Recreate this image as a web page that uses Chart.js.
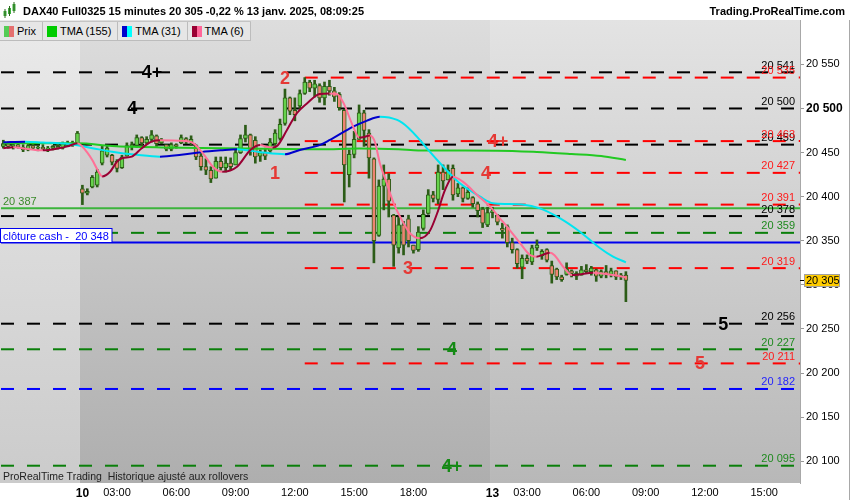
<!DOCTYPE html>
<html lang="fr">
<head>
<meta charset="utf-8">
<title>DAX40 Full0325 15 minutes</title>
<script src="https://cdn.jsdelivr.net/npm/chart.js@4.4.1/dist/chart.umd.min.js"></script>
<style>
  html, body { margin: 0; padding: 0; background: #fff; }
  #wrap { position: relative; width: 850px; height: 500px; overflow: hidden; font-family: "Liberation Sans", Arial, sans-serif; color: #000; }
  #chart { position: absolute; left: 0; top: 0; }
  #title { position: absolute; left: 23px; top: 5px; font-size: 11px; font-weight: bold; white-space: nowrap; }
  #brand { position: absolute; right: 5px; top: 5px; font-size: 11px; font-weight: bold; white-space: nowrap; }
  #legend { position: absolute; left: 0; top: 21px; display: flex; border-top: 1px solid #c4c4c4; }
  .lg { height: 18px; background: #e6e6e6; border-right: 1px solid #bcbcbc; border-bottom: 1px solid #bcbcbc; font-size: 11px; line-height: 18px; display: flex; align-items: center; white-space: nowrap; padding-right: 6px; }
  .sq { display: inline-block; width: 10px; height: 11px; margin: 0 3px 0 4px; }
  #footer { position: absolute; left: 3px; top: 470px; font-size: 10.5px; color: #222; white-space: nowrap; }
</style>
</head>
<body>
<div id="wrap">
  <canvas id="chart" width="850" height="500"></canvas>
  <div id="title">DAX40 Full0325 15 minutes 20 305 -0,22 % 13 janv. 2025, 08:09:25</div>
  <div id="brand">Trading.ProRealTime.com</div>
  <div id="legend">
    <div class="lg"><span class="sq" style="background:linear-gradient(90deg,#55cc55 50%,#e46f6f 50%)"></span>Prix</div>
    <div class="lg"><span class="sq" style="background:#00cc00"></span>TMA (155)</div>
    <div class="lg"><span class="sq" style="background:linear-gradient(90deg,#0000cc 50%,#00ffff 50%)"></span>TMA (31)</div>
    <div class="lg"><span class="sq" style="background:linear-gradient(90deg,#990033 50%,#ff6699 50%)"></span>TMA (6)</div>
  </div>
  <div id="footer">ProRealTime Trading&nbsp; Historique ajusté aux rollovers</div>
</div>
<script>
// one slot per 15-minute bar: 0-15 = 9 janv. 18:00-21:45, 16-98 = 10 janv. 01:15-21:45, 99+ = 13 janv. from 01:15
const opens  = [20457, 20460, 20457, 20459, 20456, 20453, 20458, 20455, 20456, 20454, 20455, 20457, 20455, 20460, 20458, 20460,
                20409, 20404, 20411, 20413, 20438, 20447, 20447, 20440, 20433, 20446, 20457, 20458, 20467, 20461, 20465, 20469,
                20461, 20459, 20454, 20459, 20461, 20466, 20462, 20458, 20446, 20434, 20430, 20421, 20440, 20433, 20438, 20436,
                20450, 20466, 20470, 20464, 20446, 20450, 20452, 20460, 20466, 20483, 20512, 20498, 20503, 20517, 20530, 20523,
                20526, 20512, 20525, 20520, 20516, 20498, 20425, 20448, 20465, 20495, 20472, 20443, 20356, 20412, 20420, 20379,
                20342, 20368, 20375, 20345, 20340, 20364, 20381, 20402, 20397, 20428, 20419, 20432, 20403, 20410, 20398, 20399,
                20392, 20386, 20368, 20382, 20379, 20364, 20366, 20348, 20340, 20320, 20330, 20326, 20342, 20333, 20340, 20322,
                20318, 20309, 20312, 20316, 20313, 20311, 20317, 20315, 20317, 20310, 20315, 20312, 20316, 20309, 20311];
const highs  = [20464, 20462, 20461, 20462, 20459, 20460, 20460, 20458, 20459, 20457, 20458, 20460, 20462, 20463, 20463, 20474,
                20413, 20409, 20424, 20431, 20457, 20457, 20448, 20442, 20447, 20461, 20462, 20470, 20468, 20468, 20475, 20470,
                20466, 20459, 20461, 20460, 20470, 20467, 20469, 20459, 20449, 20443, 20434, 20445, 20445, 20445, 20444, 20453,
                20470, 20481, 20471, 20468, 20453, 20455, 20466, 20476, 20488, 20522, 20513, 20512, 20521, 20535, 20532, 20532,
                20528, 20530, 20532, 20524, 20518, 20499, 20453, 20474, 20504, 20498, 20476, 20444, 20419, 20436, 20426, 20380,
                20377, 20372, 20379, 20345, 20366, 20385, 20408, 20406, 20436, 20436, 20436, 20436, 20415, 20411, 20410, 20400,
                20394, 20388, 20388, 20388, 20380, 20370, 20368, 20353, 20341, 20334, 20334, 20345, 20351, 20340, 20341, 20327,
                20319, 20311, 20325, 20317, 20315, 20321, 20323, 20321, 20318, 20317, 20322, 20319, 20316, 20313, 20315];
const lows   = [20455, 20455, 20454, 20455, 20451, 20452, 20454, 20452, 20453, 20451, 20453, 20454, 20454, 20457, 20457, 20459,
                20391, 20402, 20410, 20411, 20436, 20445, 20436, 20428, 20432, 20446, 20453, 20456, 20458, 20460, 20462, 20457,
                20460, 20452, 20452, 20455, 20460, 20460, 20458, 20442, 20430, 20425, 20416, 20421, 20430, 20428, 20430, 20436,
                20449, 20462, 20447, 20438, 20440, 20442, 20450, 20458, 20464, 20481, 20493, 20486, 20500, 20516, 20519, 20513,
                20507, 20504, 20515, 20508, 20498, 20394, 20411, 20444, 20465, 20457, 20421, 20325, 20355, 20385, 20377, 20321,
                20336, 20334, 20343, 20336, 20338, 20362, 20380, 20394, 20392, 20408, 20419, 20396, 20400, 20394, 20397, 20388,
                20377, 20365, 20366, 20376, 20368, 20353, 20343, 20336, 20319, 20307, 20324, 20323, 20339, 20329, 20326, 20302,
                20306, 20304, 20311, 20309, 20306, 20311, 20313, 20311, 20304, 20308, 20308, 20309, 20306, 20306, 20281];
const closes = [20460, 20457, 20459, 20456, 20453, 20458, 20455, 20456, 20454, 20455, 20457, 20455, 20460, 20458, 20461, 20472,
                20404, 20406, 20422, 20428, 20452, 20455, 20439, 20432, 20445, 20458, 20459, 20467, 20461, 20465, 20470, 20460,
                20464, 20454, 20459, 20457, 20467, 20462, 20465, 20445, 20434, 20430, 20420, 20440, 20433, 20438, 20434, 20450,
                20466, 20470, 20452, 20445, 20450, 20446, 20462, 20472, 20482, 20512, 20497, 20493, 20517, 20530, 20523, 20528,
                20512, 20525, 20520, 20513, 20501, 20436, 20448, 20465, 20495, 20475, 20444, 20350, 20412, 20420, 20395, 20345,
                20368, 20345, 20350, 20339, 20360, 20380, 20402, 20398, 20428, 20418, 20430, 20402, 20410, 20398, 20405, 20392,
                20384, 20370, 20382, 20384, 20371, 20362, 20348, 20340, 20324, 20330, 20327, 20342, 20345, 20338, 20328, 20312,
                20309, 20306, 20318, 20313, 20310, 20317, 20315, 20319, 20310, 20315, 20312, 20316, 20309, 20311, 20305];

// moving averages at the slots where they bend
const tma155Idx = [0, 15, 22, 32, 50, 64, 72, 80, 84, 100, 108, 115, 121, 126];
const tma155Val = [20460.5, 20460.5, 20457.5, 20455.8, 20454.6, 20453.7, 20454.6, 20453.7, 20452.4, 20452.2, 20450.7, 20448.4, 20446.1, 20441.6];
const tma31Idx = [0, 4.4, 8, 13, 18, 22, 27, 31.7, 36, 40, 44, 47.3, 52, 57, 60, 64, 66, 70.8, 73.5, 76.2, 79.7, 82, 84.3, 86.3, 88.4, 90.4, 92.4, 96.5, 99.1, 102, 105, 108.6, 112.7, 116.7, 120.8, 123.4, 126];
const tma31Val = [20461.7, 20462.4, 20461.5, 20460, 20455, 20451, 20447.5, 20445.4, 20447.5, 20450.5, 20452.5, 20453.7, 20450.5, 20448.1, 20453, 20458.5, 20464, 20479.4, 20486, 20490.7, 20487, 20478, 20464.3, 20451, 20437.9, 20426, 20415.2, 20400, 20392.5, 20391.8, 20391.2, 20386.8, 20375.5, 20360.3, 20341.5, 20332, 20325.6];
const tma6Idx = [0, 2, 5, 8, 11, 13, 15, 16, 17, 18, 19, 20, 21.6, 23, 24, 26, 28, 30, 31.7, 35.5, 38, 40.4, 42.4, 44.3, 47.3, 50, 52, 53.5, 54.5, 55.5, 57.4, 59.4, 61.5, 64, 66, 67.5, 68.8, 70.8, 72, 73, 74.2, 75.2, 76.2, 77.6, 79, 80.3, 82.3, 84.3, 86.3, 87.8, 89.4, 91, 93, 96, 98.5, 100.5, 102.5, 104.6, 106.6, 107.9, 110.6, 111.5, 113.3, 115.1, 116.1, 119.4, 120.8, 123.4, 126];
const tma6Val = [20455, 20456, 20454, 20452.5, 20454.5, 20457, 20460.5, 20456.7, 20450, 20441.6, 20431, 20423, 20428.3, 20439.7, 20443.5, 20445.4, 20454.9, 20462.4, 20464, 20463.5, 20462, 20449.2, 20434, 20428.3, 20434, 20453, 20458.6, 20456.3, 20455.8, 20458, 20475.6, 20494.6, 20505.9, 20516.4, 20517, 20516.5, 20506.8, 20479.4, 20467.1, 20467.7, 20469.4, 20462, 20437.9, 20415.2, 20392.5, 20377.3, 20358.5, 20352.8, 20361, 20381.2, 20407.6, 20422.7, 20417, 20401.4, 20388.7, 20375.5, 20362.2, 20347.2, 20333.9, 20332, 20336.5, 20334, 20320.6, 20311.2, 20311.4, 20313.8, 20313.2, 20311.2, 20308.6];

// horizontal levels
const blackLevels = [20541, 20500, 20459, 20378, 20256];
const redLevels   = [20535, 20463, 20427, 20391, 20319, 20211];
const greenLevels = [20359, 20227, 20095];
const blueLevels  = [20182];
const supportLevel = 20387;
const cashClose    = 20348;
const lastPrice    = 20305;
const redStartIdx  = 61;

// axis ticks
const xTickIdx  = [16, 23, 35, 47, 59, 71, 83, 99, 106, 118, 130, 142, 154];
const xTickText = ['10', '03:00', '06:00', '09:00', '12:00', '15:00', '18:00', '13', '03:00', '06:00', '09:00', '12:00', '15:00'];
const yTicks = [20100, 20150, 20200, 20250, 20300, 20350, 20400, 20450, 20500, 20550];

// wave counts written on the levels
const marks = [
  { text: '4+', at: 30.1,  level: 20541, color: '#000' },
  { text: '4',  at: 26.1,  level: 20500, color: '#000' },
  { text: '2',  at: 57.0,  level: 20535, color: '#e53935' },
  { text: '1',  at: 55.0,  level: 20427, color: '#e53935' },
  { text: '3',  at: 81.9,  level: 20319, color: '#e53935' },
  { text: '4+', at: 100.1, level: 20463, color: '#e53935' },
  { text: '4',  at: 97.7,  level: 20427, color: '#e53935' },
  { text: '5',  at: 141.0, level: 20211, color: '#e53935' },
  { text: '5',  at: 145.7, level: 20256, color: '#000' },
  { text: '4',  at: 90.8,  level: 20227, color: '#158a15' },
  { text: '4+', at: 90.8,  level: 20095, color: '#158a15' }
];

const X_MIN = -0.476, X_MAX = 161.24;
const FONT = '"Liberation Sans", Arial, sans-serif';

function fmt(v) {
  const s = String(Math.round(v));
  return s.slice(0, s.length - 3) + ' ' + s.slice(-3);
}

const slots = opens.map((_, i) => i);

function levelLine(v, color, start, dashed) {
  return {
    type: 'line',
    data: [{ x: start, y: v }, { x: X_MAX, y: v }],
    borderColor: color,
    borderWidth: 2,
    borderDash: dashed ? [13, 13] : [],
    pointRadius: 0,
    order: 10
  };
}

function tmaLine(idx, vals, upColor, downColor, order) {
  return {
    type: 'line',
    data: idx.map((x, k) => ({ x: x, y: vals[k] })),
    borderColor: upColor,
    borderWidth: 2,
    pointRadius: 0,
    cubicInterpolationMode: 'monotone',
    segment: {
      borderColor: c => c.p1.parsed.y >= c.p0.parsed.y ? upColor : downColor
    },
    order: order
  };
}

const datasets = [];
blackLevels.forEach(v => datasets.push(levelLine(v, '#000000', X_MIN, true)));
redLevels.forEach(v => datasets.push(levelLine(v, '#ff0000', redStartIdx, true)));
greenLevels.forEach(v => datasets.push(levelLine(v, '#0a7f0a', X_MIN, true)));
blueLevels.forEach(v => datasets.push(levelLine(v, '#0000ff', X_MIN, true)));
datasets.push(levelLine(supportLevel, '#3cb43c', X_MIN, false));
datasets.push(levelLine(cashClose, '#0000ee', X_MIN, false));

// wicks
datasets.push({
  type: 'bar',
  data: slots.map(i => ({ x: i, y: [lows[i], highs[i]] })),
  backgroundColor: '#2c5c17',
  barThickness: 2,
  grouped: false,
  order: 6
});
// bodies
datasets.push({
  type: 'bar',
  data: slots.map(i => ({ x: i, y: [opens[i], closes[i]] })),
  backgroundColor: slots.map(i => closes[i] >= opens[i] ? '#66d24c' : '#ee8472'),
  borderColor: '#2c5c17',
  borderWidth: 1,
  borderSkipped: false,
  barThickness: 4,
  grouped: false,
  order: 5
});

datasets.push(tmaLine(tma155Idx, tma155Val, '#22c922', '#22c922', 3));
datasets.push(tmaLine(tma31Idx, tma31Val, '#0000cc', '#00e5f0', 2));
datasets.push(tmaLine(tma6Idx, tma6Val, '#990033', '#ff7097', 1));

// day bands with vertical gradients
const bgBands = {
  id: 'bgBands',
  beforeDraw(chart) {
    const { ctx, chartArea: a, scales: { x } } = chart;
    const cuts = [a.left - 1, x.getPixelForValue(15.5), x.getPixelForValue(98.5), a.right];
    const tones = [['#eaeaea', '#cbcbcb'], ['#dddddd', '#aeaeae'], ['#e3e3e3', '#b8b8b8']];
    ctx.save();
    for (let k = 0; k < 3; k++) {
      const g = ctx.createLinearGradient(0, a.top, 0, a.bottom);
      g.addColorStop(0, tones[k][0]);
      g.addColorStop(1, tones[k][1]);
      ctx.fillStyle = g;
      ctx.fillRect(cuts[k], a.top, cuts[k + 1] - cuts[k], a.bottom - a.top);
    }
    ctx.restore();
  }
};

const notes = {
  id: 'notes',
  afterDatasetsDraw(chart) {
    const { ctx, chartArea: a, scales: { x, y } } = chart;
    ctx.save();

    // level values at the right edge
    ctx.font = '11px ' + FONT;
    ctx.textAlign = 'right';
    ctx.textBaseline = 'alphabetic';
    const groups = [[blackLevels, '#000000'], [redLevels, '#ff1a1a'], [greenLevels, '#1f8a1f'], [blueLevels, '#1f1fff']];
    groups.forEach(([levels, color]) => {
      ctx.fillStyle = color;
      levels.forEach(v => ctx.fillText(fmt(v), a.right - 5, y.getPixelForValue(v) - 3.5));
    });

    // support value on the left
    ctx.textAlign = 'left';
    ctx.fillStyle = '#3a8a2a';
    ctx.fillText(fmt(supportLevel), 3, y.getPixelForValue(supportLevel) - 3.5);

    // cash close box
    const yc = Math.round(y.getPixelForValue(cashClose));
    ctx.fillStyle = '#ffffff';
    ctx.fillRect(0, yc - 15, 112, 15);
    ctx.strokeStyle = '#0000ee';
    ctx.lineWidth = 1;
    ctx.strokeRect(0.5, yc - 14.5, 111.5, 14);
    ctx.fillStyle = '#0000ff';
    ctx.fillText('clôture cash -  ' + fmt(cashClose), 3, yc - 3.5);

    // wave counts
    ctx.font = 'bold 18px ' + FONT;
    ctx.textAlign = 'center';
    ctx.textBaseline = 'middle';
    marks.forEach(m => {
      ctx.fillStyle = m.color;
      ctx.fillText(m.text, x.getPixelForValue(m.at), y.getPixelForValue(m.level) + 1);
    });
    ctx.restore();
  },
  afterDraw(chart) {
    const { ctx, chartArea: a, scales: { y } } = chart;
    ctx.save();
    // last price tag
    const yp = Math.round(y.getPixelForValue(lastPrice)) + 0.5;
    ctx.strokeStyle = '#000';
    ctx.lineWidth = 1;
    ctx.beginPath();
    ctx.moveTo(a.right, yp);
    ctx.lineTo(a.right + 4, yp);
    ctx.stroke();
    ctx.fillStyle = '#ffcc00';
    ctx.fillRect(804, yp - 6, 36, 12);
    ctx.strokeStyle = '#a0a0a0';
    ctx.strokeRect(804.5, yp - 6, 35, 12);
    ctx.fillStyle = '#000';
    ctx.font = '11px ' + FONT;
    ctx.textAlign = 'left';
    ctx.textBaseline = 'middle';
    ctx.fillText(fmt(lastPrice), 806, yp + 0.5);

    // frame at the right edge
    ctx.strokeStyle = '#a8a8a8';
    ctx.beginPath();
    ctx.moveTo(849.5, 20);
    ctx.lineTo(849.5, 500);
    ctx.stroke();

    // header icon
    ctx.fillStyle = '#3fae3f';
    ctx.strokeStyle = '#2c6a1c';
    [[5, 11, 5], [9.5, 8, 6], [14, 4, 7]].forEach(([cx, top, h]) => {
      ctx.fillRect(cx - 1.5, top, 3, h);
      ctx.beginPath();
      ctx.moveTo(cx, top - 2);
      ctx.lineTo(cx, top + h + 2);
      ctx.stroke();
    });
    ctx.restore();
  }
};

new Chart(document.getElementById('chart'), {
  type: 'bar',
  data: { datasets: datasets },
  options: {
    responsive: false,
    devicePixelRatio: 1,
    animation: false,
    events: [],
    layout: { padding: { top: 20, left: 1, right: 0, bottom: 0 } },
    plugins: { legend: { display: false }, tooltip: { enabled: false } },
    scales: {
      x: {
        type: 'linear',
        min: X_MIN,
        max: X_MAX,
        offset: false,
        grid: { display: false, drawTicks: false },
        border: { display: false },
        afterBuildTicks: s => { s.ticks = xTickIdx.map(v => ({ value: v })); },
        afterFit: s => { s.height = 17; },
        ticks: {
          autoSkip: false,
          maxRotation: 0,
          padding: 3,
          color: '#000',
          font: c => (c.index === 0 || c.index === 7) ? { family: FONT, size: 12, weight: 'bold' } : { family: FONT, size: 11 },
          callback: (v, i) => xTickText[i]
        }
      },
      y: {
        type: 'linear',
        position: 'right',
        min: 20075.4,
        max: 20600.3,
        grid: { display: true, drawOnChartArea: false, drawTicks: true, tickLength: 4, color: '#999' },
        border: { display: true, color: '#a8a8a8' },
        afterBuildTicks: s => { s.ticks = yTicks.map(v => ({ value: v })); },
        afterFit: s => { s.width = 50; },
        ticks: {
          padding: 2,
          color: '#000',
          font: c => (c.tick && c.tick.value === 20500) ? { family: FONT, size: 12, weight: 'bold' } : { family: FONT, size: 11 },
          callback: v => fmt(v)
        }
      }
    }
  },
  plugins: [bgBands, notes]
});
</script>
</body>
</html>
